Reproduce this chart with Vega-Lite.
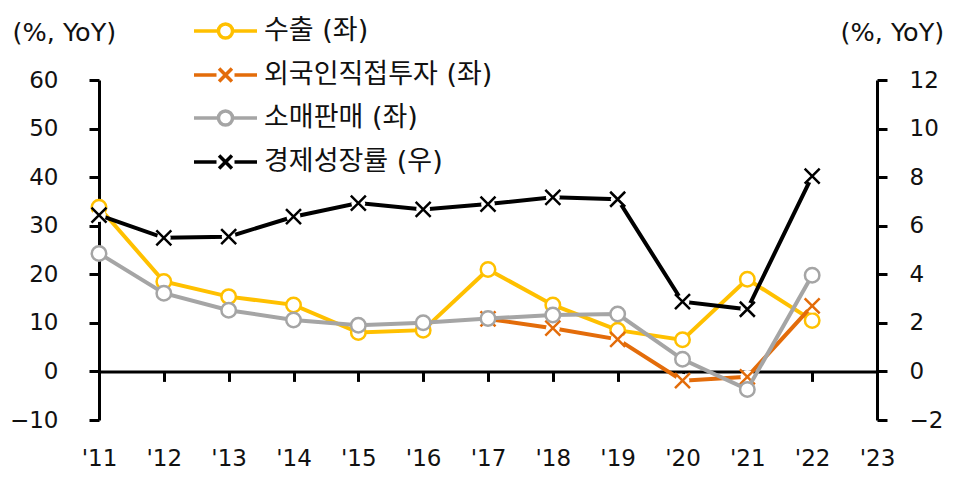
{
  "$schema": "https://vega.github.io/schema/vega-lite/v6.json",
  "width": 778,
  "height": 340,
  "autosize": {"type": "none"},
  "padding": {"left": 99, "top": 80, "right": 91, "bottom": 71},
  "config": {
    "view": {"stroke": null},
    "font": "DejaVu Sans",
    "axis": {
      "grid": false,
      "domainColor": "black",
      "domainWidth": 3,
      "tickColor": "black",
      "tickWidth": 3,
      "tickSize": 10,
      "labelFont": "DejaVu Sans",
      "labelFontSize": 23,
      "labelColor": "#111111",
      "titleFont": "DejaVu Sans",
      "titleFontSize": 25.5,
      "titleFontWeight": "normal",
      "titleColor": "#111111"
    }
  },
  "data": {
    "values": [
      {"year": 2011, "s": "수출 (좌)", "v": 33.8},
      {"year": 2012, "s": "수출 (좌)", "v": 18.5},
      {"year": 2013, "s": "수출 (좌)", "v": 15.4},
      {"year": 2014, "s": "수출 (좌)", "v": 13.7},
      {"year": 2015, "s": "수출 (좌)", "v": 8.0},
      {"year": 2016, "s": "수출 (좌)", "v": 8.5},
      {"year": 2017, "s": "수출 (좌)", "v": 21.0},
      {"year": 2018, "s": "수출 (좌)", "v": 13.7},
      {"year": 2019, "s": "수출 (좌)", "v": 8.5},
      {"year": 2020, "s": "수출 (좌)", "v": 6.5},
      {"year": 2021, "s": "수출 (좌)", "v": 19.0},
      {"year": 2022, "s": "수출 (좌)", "v": 10.5},
      {"year": 2017, "s": "외국인직접투자 (좌)", "v": 10.8},
      {"year": 2018, "s": "외국인직접투자 (좌)", "v": 8.9},
      {"year": 2019, "s": "외국인직접투자 (좌)", "v": 6.6},
      {"year": 2020, "s": "외국인직접투자 (좌)", "v": -1.9},
      {"year": 2021, "s": "외국인직접투자 (좌)", "v": -1.1},
      {"year": 2022, "s": "외국인직접투자 (좌)", "v": 13.5},
      {"year": 2011, "s": "소매판매 (좌)", "v": 24.3},
      {"year": 2012, "s": "소매판매 (좌)", "v": 16.1},
      {"year": 2013, "s": "소매판매 (좌)", "v": 12.6},
      {"year": 2014, "s": "소매판매 (좌)", "v": 10.6},
      {"year": 2015, "s": "소매판매 (좌)", "v": 9.5},
      {"year": 2016, "s": "소매판매 (좌)", "v": 10.0},
      {"year": 2017, "s": "소매판매 (좌)", "v": 10.9},
      {"year": 2018, "s": "소매판매 (좌)", "v": 11.6},
      {"year": 2019, "s": "소매판매 (좌)", "v": 11.8},
      {"year": 2020, "s": "소매판매 (좌)", "v": 2.5},
      {"year": 2021, "s": "소매판매 (좌)", "v": -3.7},
      {"year": 2022, "s": "소매판매 (좌)", "v": 19.8},
      {"year": 2011, "s": "경제성장률 (우)", "v": 6.44},
      {"year": 2012, "s": "경제성장률 (우)", "v": 5.5},
      {"year": 2013, "s": "경제성장률 (우)", "v": 5.55},
      {"year": 2014, "s": "경제성장률 (우)", "v": 6.37},
      {"year": 2015, "s": "경제성장률 (우)", "v": 6.93},
      {"year": 2016, "s": "경제성장률 (우)", "v": 6.67},
      {"year": 2017, "s": "경제성장률 (우)", "v": 6.89},
      {"year": 2018, "s": "경제성장률 (우)", "v": 7.17},
      {"year": 2019, "s": "경제성장률 (우)", "v": 7.09},
      {"year": 2020, "s": "경제성장률 (우)", "v": 2.87},
      {"year": 2021, "s": "경제성장률 (우)", "v": 2.56},
      {"year": 2022, "s": "경제성장률 (우)", "v": 8.04}
    ]
  },
  "encoding": {
    "x": {
      "field": "year",
      "type": "quantitative",
      "scale": {"domain": [2011, 2023], "nice": false, "zero": false},
      "axis": {
        "title": null,
        "values": [2011, 2012, 2013, 2014, 2015, 2016, 2017, 2018, 2019, 2020, 2021, 2022, 2023],
        "labelExpr": "\"'\" + slice(toString(datum.value), 2)",
        "offset": -48.6,
        "labelPadding": 66,
        "labelFlush": false,
        "labelOverlap": false
      }
    }
  },
  "layer": [
    {
      "encoding": {
        "y": {
          "field": "v",
          "type": "quantitative",
          "scale": {"domain": [-10, 60], "nice": false, "zero": false},
          "axis": {
            "orient": "left",
            "values": [-10, 0, 10, 20, 30, 40, 50, 60],
            "labelPadding": 31,
            "title": "(%, YoY)",
            "titleAngle": 0,
            "titleAlign": "left",
            "titleBaseline": "middle",
            "titleX": -87,
            "titleY": -48
          }
        }
      },
      "layer": [
        {
          "transform": [{"filter": "datum.s === '수출 (좌)'"}],
          "mark": {"type": "line", "strokeWidth": 4},
          "encoding": {
            "color": {
              "field": "s",
              "type": "nominal",
              "scale": {
                "domain": ["수출 (좌)", "외국인직접투자 (좌)", "소매판매 (좌)", "경제성장률 (우)"],
                "range": ["#FFC000", "#E36C0A", "#A5A5A5", "#000000"]
              },
              "legend": {
                "title": null,
                "orient": "none",
                "legendX": 109.5,
                "legendY": -66,
                "padding": 0,
                "symbolSize": 900,
                "symbolStrokeWidth": 3.5,
                "labelFont": "DejaVu Sans, Noto Sans CJK KR",
                "labelFontSize": 27,
                "labelColor": "#111111",
                "labelLimit": 500,
                "labelOffset": 21.5,
                "rowPadding": 12,
                "encode": {
                  "symbols": {
                    "update": {
                      "shape": {"signal": "indexof(['외국인직접투자 (좌)', '경제성장률 (우)'], datum.value) >= 0 ? 'M-2.1,0L-0.6,0M0.6,0L2.1,0M-0.43,-0.43L0.43,0.43M-0.43,0.43L0.43,-0.43' : 'M-2.1,0L-0.47,0M0.47,0L2.1,0M-0.47,0A0.47,0.47,0,1,1,0.47,0A0.47,0.47,0,1,1,-0.47,0'"},
                      "fill": {"value": "white"},
                      "strokeWidth": {"value": 3.5}
                    }
                  }
                }
              }
            }
          }
        },
        {
          "transform": [{"filter": "datum.s === '수출 (좌)'"}],
          "mark": {"type": "point", "shape": "circle", "filled": true, "fill": "white", "stroke": "#FFC000", "strokeWidth": 2.5, "size": 210, "opacity": 1}
        },
        {
          "transform": [{"filter": "datum.s === '외국인직접투자 (좌)'"}],
          "mark": {"type": "line", "strokeWidth": 4},
          "encoding": {"color": {"field": "s", "type": "nominal"}}
        },
        {
          "transform": [{"filter": "datum.s === '외국인직접투자 (좌)'"}],
          "mark": {"type": "point", "shape": "circle", "filled": true, "fill": "white", "strokeWidth": 0, "size": 190, "opacity": 1}
        },
        {
          "transform": [{"filter": "datum.s === '외국인직접투자 (좌)'"}],
          "mark": {"type": "point", "shape": "M-1,-1L1,1M-1,1L1,-1", "filled": false, "stroke": "#E36C0A", "strokeWidth": 2.5, "size": 225, "opacity": 1}
        },
        {
          "transform": [{"filter": "datum.s === '소매판매 (좌)'"}],
          "mark": {"type": "line", "strokeWidth": 4},
          "encoding": {"color": {"field": "s", "type": "nominal"}}
        },
        {
          "transform": [{"filter": "datum.s === '소매판매 (좌)'"}],
          "mark": {"type": "point", "shape": "circle", "filled": true, "fill": "white", "stroke": "#A5A5A5", "strokeWidth": 2.5, "size": 210, "opacity": 1}
        }
      ]
    },
    {
      "transform": [{"filter": "datum.s === '경제성장률 (우)'"}],
      "encoding": {
        "y": {
          "field": "v",
          "type": "quantitative",
          "scale": {"domain": [-2, 12], "nice": false, "zero": false},
          "axis": {
            "orient": "right",
            "values": [-2, 0, 2, 4, 6, 8, 10, 12],
            "labelAlign": "left",
            "labelPadding": 22,
            "title": "(%, YoY)",
            "titleAngle": 0,
            "titleAlign": "left",
            "titleBaseline": "middle",
            "titleX": -37,
            "titleY": -48
          }
        }
      },
      "layer": [
        {
          "mark": {"type": "line", "strokeWidth": 4},
          "encoding": {"color": {"field": "s", "type": "nominal"}}
        },
        {
          "mark": {"type": "point", "shape": "circle", "filled": true, "fill": "white", "strokeWidth": 0, "size": 190, "opacity": 1}
        },
        {
          "mark": {"type": "point", "shape": "M-1,-1L1,1M-1,1L1,-1", "filled": false, "stroke": "#000000", "strokeWidth": 2.5, "size": 225, "opacity": 1}
        }
      ]
    }
  ],
  "resolve": {"scale": {"y": "independent"}, "axis": {"y": "independent"}}
}
